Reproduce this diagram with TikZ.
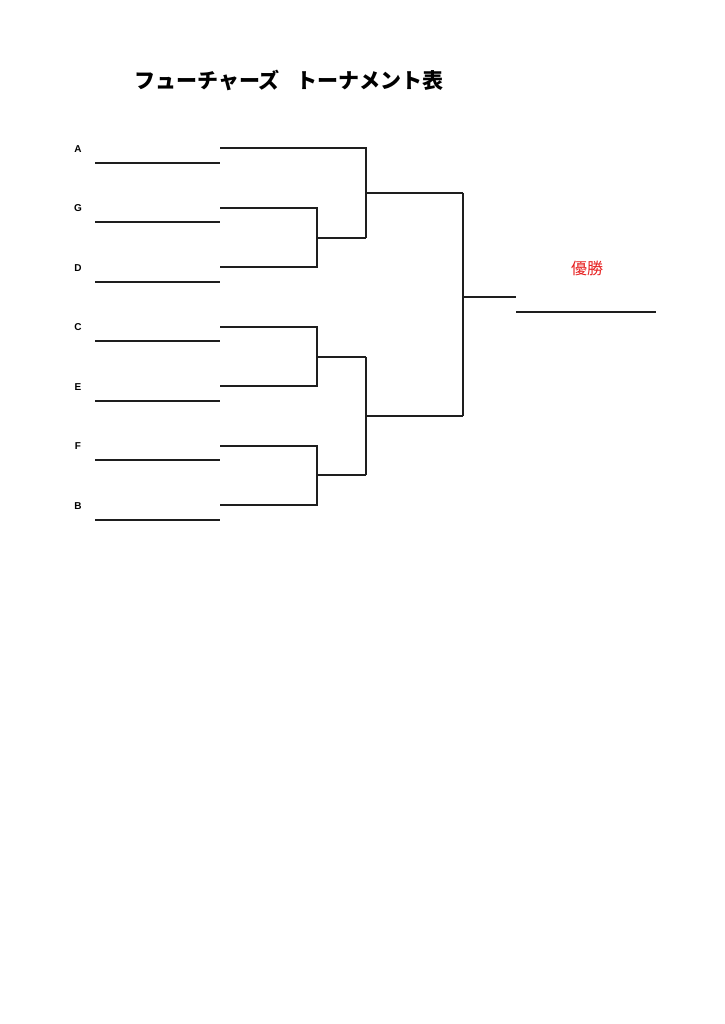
\documentclass[tikz,border=0pt]{standalone}
\usepackage{fontspec}
\setmainfont{Liberation Sans}
\newfontfamily\jpfont{Noto Sans CJK JP}
\definecolor{winred}{RGB}{230,30,30}
\definecolor{lncol}{RGB}{30,30,30}
\begin{document}
\begin{tikzpicture}[x=1pt,y=-1pt,
  br/.style={line width=1.3pt,line join=miter,draw=lncol},
  uline/.style={line width=1.3pt,draw=lncol},
  team/.style={font=\fontsize{10}{10}\selectfont\bfseries,inner sep=0pt,anchor=center},
  ttl/.style={font=\jpfont\fontsize{21}{21}\selectfont\bfseries,inner sep=0pt,anchor=center}]
\useasboundingbox (0,0) rectangle (724,1024);
\node[ttl] (title) at (289,80) {フューチャーズ\hspace{0.8em}トーナメント表};
% team labels and underlines
\foreach \n/\y in {A/149,G/208,D/268,C/327,E/387,F/446,B/506}{
  \node[team] (l\n) at (78,\y) {\n};
  \coordinate (u\n s) at (95,\y+14);
  \coordinate (u\n e) at (220,\y+14);
  \draw[uline] (u\n s) -- (u\n e);
}
% first-round entries
\coordinate (pA) at (220,148);
\coordinate (pG) at (220,208);
\coordinate (pD) at (220,267);
\coordinate (pC) at (220,327);
\coordinate (pE) at (220,386);
\coordinate (pF) at (220,446);
\coordinate (pB) at (220,505);
\coordinate (mGD) at (317,238);
\coordinate (mCE) at (317,357);
\coordinate (mFB) at (317,475);
\coordinate (sTop) at (366,193);
\coordinate (sBot) at (366,416);
\coordinate (fin) at (463,297);
\coordinate (finE) at (516,297);
\coordinate (wS) at (516,312);
\coordinate (wE) at (656,312);
\draw[br] (pG) -| (mGD) |- (pD);
\draw[br] (pC) -| (mCE) |- (pE);
\draw[br] (pF) -| (mFB) |- (pB);
\draw[br] (mGD) -- (366,238);
\draw[br] (pA) -| (sTop) |- (366,238);
\draw[br] (sTop) -- (463,193);
\draw[br] (mCE) -- (366,357);
\draw[br] (mFB) -- (366,475);
\draw[br] (366,357) -- (sBot) -- (366,475);
\draw[br] (sBot) -- (463,416);
\draw[br] (463,193) -- (fin) -- (463,416);
\draw[br] (fin) -- (finE);
\draw[line width=2.5pt,draw=lncol] (wS) -- (wE);
\node[font=\jpfont\fontsize{16}{16}\selectfont,text=winred,inner sep=0pt] (win) at (587,268) {優勝};
\end{tikzpicture}
\end{document}
